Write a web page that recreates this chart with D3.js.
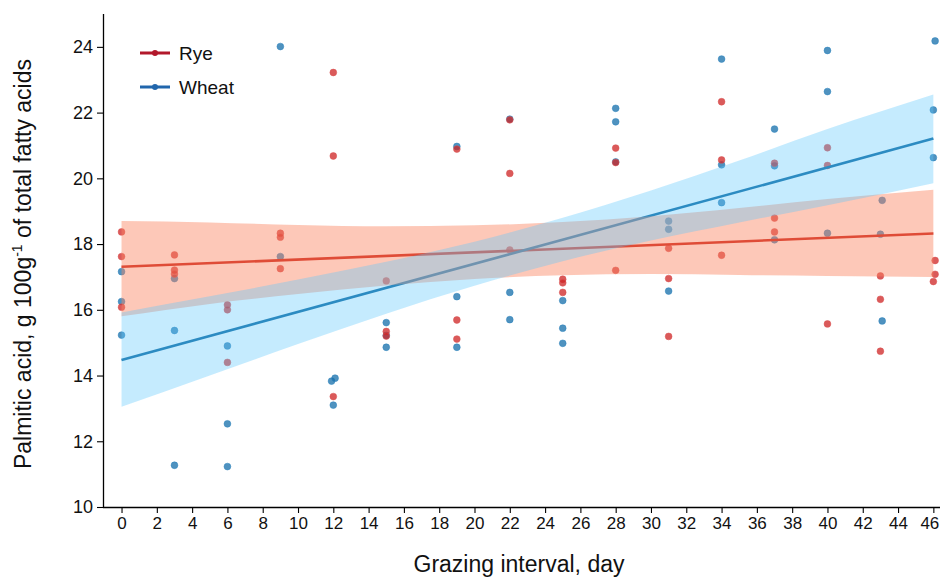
<!DOCTYPE html>
<html>
<head>
<meta charset="utf-8">
<script src="https://cdn.jsdelivr.net/npm/d3@7"></script>
<style>
  body { margin: 0; background: white; }
  svg { display: block; font-family: "Liberation Sans", Arial, sans-serif; }
</style>
</head>
<body>
<div id="chart"></div>
<script>
// palmitic acid vs grazing interval, rye and wheat, with linear fits + CI bands

const ryeX = [0, 0, 0, 3, 3, 3, 6, 6, 6, 9, 9, 9, 12, 12, 12, 15, 15, 15, 19, 19, 19,
  22, 22, 22, 25, 25, 25, 28, 28, 28, 31, 31, 31, 34, 34, 34, 37, 37, 37, 40, 40, 40,
  43, 43, 43, 46.1, 46.1, 46];
const ryeY = [18.37, 17.62, 16.08, 17.67, 17.21, 17.09, 16.15, 16.0, 14.40, 18.33, 18.21, 17.25,
  23.22, 20.68, 13.36, 16.88, 15.34, 15.20, 20.89, 15.69, 15.11,
  21.78, 20.15, 17.82, 16.93, 16.82, 16.53, 20.92, 20.48, 17.20, 17.87, 16.95, 15.19,
  22.33, 20.56, 17.66, 20.46, 18.79, 18.37, 20.93, 20.39, 15.57,
  17.03, 16.32, 14.74, 17.50, 17.08, 16.86];

const wheatX = [0, 0, 0, 3, 3, 3, 6, 6, 6, 9, 9, 11.9, 12.1, 12, 15, 15, 15, 19, 19, 19,
  22, 22, 22, 25, 25, 25, 28, 28, 28, 31, 31, 31, 34, 34, 34, 37, 37, 37, 40, 40, 40,
  43.1, 43, 43.1, 46.1, 46, 46];
const wheatY = [17.16, 16.25, 15.23, 16.95, 15.37, 11.27, 14.90, 12.53, 11.23, 24.01, 17.62,
  13.83, 13.92, 13.10, 15.61, 15.22, 14.86, 20.97, 16.40, 14.86,
  21.80, 16.53, 15.70, 16.28, 15.44, 14.98, 22.13, 21.72, 20.50, 18.70, 18.45, 16.57,
  23.63, 20.41, 19.26, 21.50, 20.38, 18.13, 23.89, 22.64, 18.33,
  19.33, 18.30, 15.66, 24.18, 22.08, 20.63];

// fitted lines (ends) and confidence bands
const fitX = [0, 46];
const ryeFit = [17.31, 18.32];
const wheatFit = [14.47, 21.21];

const bandX = [0, 5, 10, 15, 20, 25, 30, 35, 40, 46];
const ryeLow = [15.80, 16.18, 16.48, 16.74, 16.94, 17.05, 17.09, 17.06, 17.03, 17.00];
const ryeHigh = [18.70, 18.66, 18.58, 18.54, 18.57, 18.67, 18.85, 19.10, 19.37, 19.65];
const wheatLow = [13.05, 14.00, 14.96, 15.88, 16.73, 17.48, 18.11, 18.66, 19.18, 19.85];
const wheatHigh = [15.92, 16.41, 16.92, 17.46, 18.07, 18.80, 19.63, 20.54, 21.50, 22.55];

const xTicks = d3.range(0, 47, 2);
const yTicks = [10, 12, 14, 16, 18, 20, 22, 24];

const width = 940, height = 579;

const svg = d3.select("#chart")
  .append("svg")
  .attr("width", width)
  .attr("height", height);

const x = d3.scaleLinear().domain([-1.05, 47]).range([103, 951]);
const y = d3.scaleLinear().domain([10, 25]).range([507, 14]);

const plot = svg.append("g");

// points first, bands get drawn over them
const ryePts = ryeX.map((d, i) => ({ x: d, y: ryeY[i] }));
const wheatPts = wheatX.map((d, i) => ({ x: d, y: wheatY[i] }));

plot.append("g")
  .selectAll("circle")
  .data(wheatPts)
  .join("circle")
  .attr("cx", d => x(d.x))
  .attr("cy", d => y(d.y))
  .attr("r", 3.4)
  .attr("fill", "rgb(20,110,170)")
  .attr("fill-opacity", 0.75)
  .attr("stroke", "rgb(40,130,190)")
  .attr("stroke-opacity", 0.5)
  .attr("stroke-width", 1);

plot.append("g")
  .selectAll("circle")
  .data(ryePts)
  .join("circle")
  .attr("cx", d => x(d.x))
  .attr("cy", d => y(d.y))
  .attr("r", 3.4)
  .attr("fill", "rgb(205,35,35)")
  .attr("fill-opacity", 0.75)
  .attr("stroke", "rgb(220,80,80)")
  .attr("stroke-opacity", 0.5)
  .attr("stroke-width", 1);

// fit lines
const line = d3.line().x(d => x(d[0])).y(d => y(d[1]));

plot.append("path")
  .datum(fitX.map((d, i) => [d, ryeFit[i]]))
  .attr("d", line)
  .attr("fill", "none")
  .attr("stroke", "rgb(200,30,20)")
  .attr("stroke-width", 2.6);

plot.append("path")
  .datum(fitX.map((d, i) => [d, wheatFit[i]]))
  .attr("d", line)
  .attr("fill", "none")
  .attr("stroke", "rgb(17,106,161)")
  .attr("stroke-width", 2.6);

// confidence bands
const area = d3.area()
  .x(d => x(d.x))
  .y0(d => y(d.lo))
  .y1(d => y(d.hi))
  .curve(d3.curveMonotoneX);

plot.append("path")
  .datum(bandX.map((d, i) => ({ x: d, lo: ryeLow[i], hi: ryeHigh[i] })))
  .attr("d", area)
  .attr("fill", "rgb(250,133,97)")
  .attr("fill-opacity", 0.45);

plot.append("path")
  .datum(bandX.map((d, i) => ({ x: d, lo: wheatLow[i], hi: wheatHigh[i] })))
  .attr("d", area)
  .attr("fill", "rgb(95,200,252)")
  .attr("fill-opacity", 0.36);

// axes
const xAxis = svg.append("g")
  .attr("transform", `translate(0,${y(10)})`)
  .call(d3.axisBottom(x).tickValues(xTicks).tickSize(6).tickPadding(4).tickSizeOuter(0));
xAxis.select(".domain").attr("d", `M103,0.5H${width}`).attr("stroke-width", 1.3);
xAxis.selectAll(".tick line").attr("stroke-width", 1.1);
xAxis.selectAll("text")
  .attr("font-size", 17)
  .attr("fill", "#111")
  .style("font-family", "'Liberation Sans', Arial, sans-serif");
// last label sits against the right edge, nudge it in so it isn't clipped
xAxis.selectAll(".tick text").filter(d => d === 46).attr("dx", -4);

const yAxis = svg.append("g")
  .attr("transform", `translate(103,0)`)
  .call(d3.axisLeft(y).tickValues(yTicks).tickSize(6).tickPadding(4).tickSizeOuter(0));
yAxis.select(".domain").attr("d", `M0.5,${y(10)}V${y(25)}`).attr("stroke-width", 1.3);
yAxis.selectAll(".tick line").attr("stroke-width", 1.1);
yAxis.selectAll("text")
  .attr("font-size", 18)
  .attr("fill", "#111")
  .style("font-family", "'Liberation Sans', Arial, sans-serif");

// axis titles
svg.append("text")
  .attr("x", 519)
  .attr("y", 572)
  .attr("text-anchor", "middle")
  .attr("font-size", 23)
  .attr("fill", "#111")
  .text("Grazing interval, day");

const yTitle = svg.append("text")
  .attr("transform", "translate(31,264) rotate(-90)")
  .attr("text-anchor", "middle")
  .attr("font-size", 23)
  .attr("fill", "#111");
yTitle.append("tspan").text("Palmitic acid, g 100g");
yTitle.append("tspan").attr("font-size", 14).attr("dy", -9).text("-1");
yTitle.append("tspan").attr("dy", 9).text(" of total fatty acids");

// legend
const legendNames = ["Rye", "Wheat"];
const legendColors = ["rgb(178,24,43)", "rgb(33,102,172)"];

const legend = svg.append("g")
  .selectAll("g")
  .data(legendNames)
  .join("g")
  .attr("transform", (d, i) => `translate(140,${53 + i * 34})`);

legend.append("line")
  .attr("x1", 0).attr("x2", 30)
  .attr("stroke", (d, i) => legendColors[i])
  .attr("stroke-width", 3);

legend.append("circle")
  .attr("cx", 15).attr("r", 3)
  .attr("fill", (d, i) => legendColors[i]);

legend.append("text")
  .attr("x", 39)
  .attr("y", 7)
  .attr("font-size", 19)
  .attr("fill", "#111")
  .text(d => d);
</script>
</body>
</html>
